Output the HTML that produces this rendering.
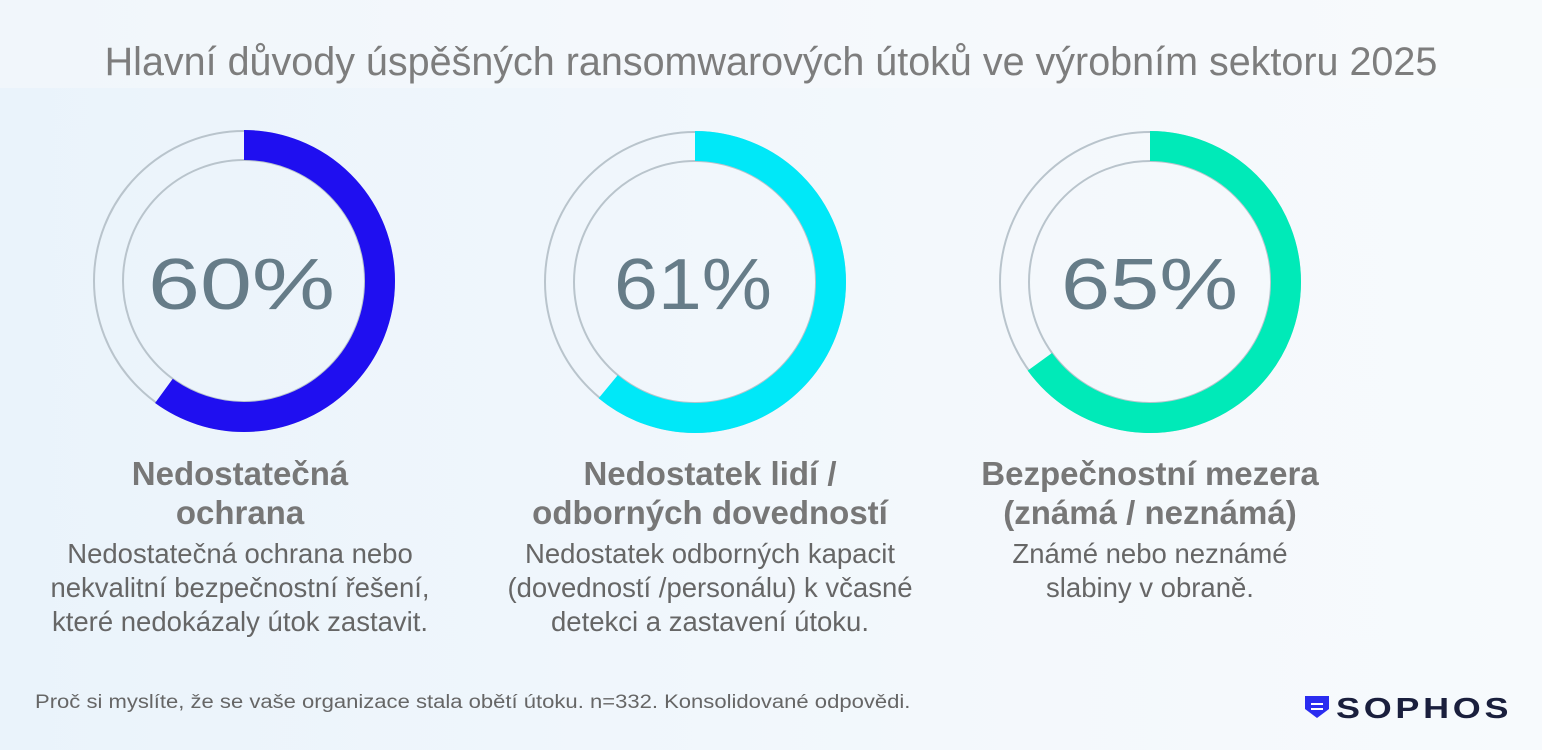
<!DOCTYPE html>
<html><head><meta charset="utf-8"><style>
body{margin:0;width:1542px;height:750px;overflow:hidden;background:linear-gradient(90deg,#eaf3fb,#f3f8fc 60%,#f7fafd);font-family:"Liberation Sans",sans-serif;position:relative}
.t{position:absolute;left:0;width:1542px;top:40px;text-align:center;font-size:39.5px;color:#7d7d7d}
.hd{position:absolute;background:#f7f9fb;top:0;left:0;width:1542px;height:88px;opacity:.5}
.c{position:absolute;text-align:center}
.h{font-weight:bold;font-size:33px;color:#777;line-height:39px}
.d{font-size:27.5px;color:#666;line-height:34px;margin-top:5px}
.f{position:absolute;left:35px;top:692px;font-size:19px;color:#666;transform:scaleX(1.16);transform-origin:left;white-space:nowrap}
.logo{position:absolute;left:1336px;top:693px;font-size:29px;font-weight:bold;color:#1a1f3d;letter-spacing:3px;transform:scaleX(1.24);transform-origin:left}
</style></head><body>
<div class="hd"></div>
<div class="t">Hlavní důvody úspěšných ransomwarových útoků ve výrobním sektoru 2025</div>
<svg width="1542" height="750" style="position:absolute;left:0;top:0">
<g fill="none" stroke="#b9c4cc" stroke-width="2">
<circle cx="244" cy="281" r="150"/><circle cx="244" cy="281" r="121"/>
<circle cx="695" cy="282" r="150"/><circle cx="695" cy="282" r="121"/>
<circle cx="1150" cy="282" r="150"/><circle cx="1150" cy="282" r="121"/>
</g>
<g fill="none" stroke-width="30">
<circle cx="244" cy="281" r="136" stroke="#1f0ff0" stroke-dasharray="512.7 2000" transform="rotate(-90 244 281)"/>
<circle cx="695" cy="282" r="136" stroke="#00e8f8" stroke-dasharray="521.2 2000" transform="rotate(-90 695 282)"/>
<circle cx="1150" cy="282" r="136" stroke="#00eab8" stroke-dasharray="555.4 2000" transform="rotate(-90 1150 282)"/>
</g>
<g font-family="Liberation Sans" font-size="72" fill="#667c88">
<text x="148" y="309" textLength="187" lengthAdjust="spacingAndGlyphs">60%</text>
<text x="614" y="309" textLength="158" lengthAdjust="spacingAndGlyphs">61%</text>
<text x="1061" y="309" textLength="177" lengthAdjust="spacingAndGlyphs">65%</text>
</g>
</svg>
<div class="c" style="left:30px;width:420px;top:454px"><div class="h">Nedostatečná<br>ochrana</div><div class="d">Nedostatečná ochrana nebo<br>nekvalitní bezpečnostní řešení,<br>které nedokázaly útok zastavit.</div></div>
<div class="c" style="left:480px;width:460px;top:454px"><div class="h">Nedostatek lidí /<br>odborných dovedností</div><div class="d">Nedostatek odborných kapacit<br>(dovedností /personálu) k včasné<br>detekci a zastavení útoku.</div></div>
<div class="c" style="left:940px;width:420px;top:454px"><div class="h">Bezpečnostní mezera<br>(známá / neznámá)</div><div class="d">Známé nebo neznámé<br>slabiny v obraně.</div></div>
<div class="f">Proč si myslíte, že se vaše organizace stala obětí útoku. n=332. Konsolidované odpovědi.</div>
<svg width="26" height="24" style="position:absolute;left:1304px;top:695px"><path d="M1 1H25V14L13 23L1 14Z" fill="#2a2cf0"/><path d="M7 9H19M7 14H19" stroke="#fff" stroke-width="2"/></svg>
<div class="logo">SOPHOS</div>
</body></html>
